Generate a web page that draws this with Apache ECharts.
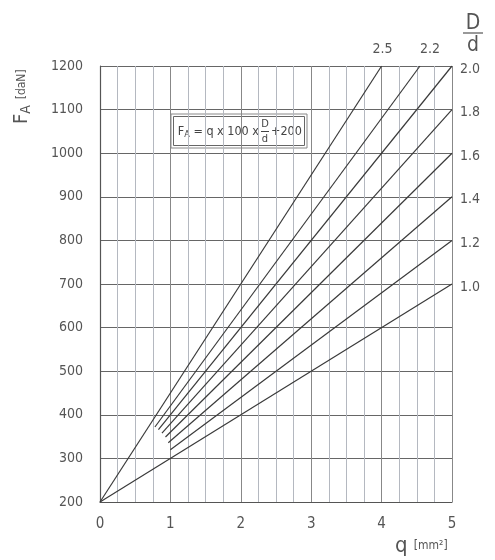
<!DOCTYPE html>
<html>
<head>
<meta charset="utf-8">
<script src="https://cdn.jsdelivr.net/npm/echarts@6/dist/echarts.min.js"></script>
<style>
  html, body { margin: 0; padding: 0; background: #fff; }
  #chart { width: 495px; height: 560px; }
</style>
</head>
<body>
<div id="chart"></div>
<script>
// D/d ratios, one line each
let ratios = ['2.5', '2.2', '2.0', '1.8', '1.6', '1.4', '1.2', '1.0'];
// where each line starts (q, F) and where it leaves the chart
let lineStart = [[0, 200], [0.78, 372], [0.83, 366], [0.88, 358], [0.93, 349], [0.97, 336], [1.0, 320], [0, 200]];
let lineEnd = [[4, 1200], [4.545, 1200], [5, 1200], [5, 1100], [5, 1000], [5, 900], [5, 800], [5, 700]];
// which ratios are labelled above the plot instead of at the right
let topLabels = ['2.5', '2.2'];

let font = "'Liberation Sans Narrow', 'DejaVu Sans Condensed', 'Liberation Sans', sans-serif";
let txt = '#555';

let chart = echarts.init(document.getElementById('chart'));

let series = ratios.map(function (r, i) {
  let onTop = topLabels.indexOf(r) >= 0;
  return {
    name: r,
    type: 'line',
    symbol: 'none',
    silent: true,
    lineStyle: { color: '#3a3a3a', width: 1.2 },
    endLabel: {
      show: true,
      formatter: r,
      distance: onTop ? 0 : 8,
      align: onTop ? 'center' : 'left',
      offset: onTop ? (r === '2.2' ? [10, -17] : [1, -17]) : [0, 3],
      color: txt,
      fontSize: 14,
      fontFamily: font
    },
    data: [lineStart[i], lineEnd[i]]
  };
});

chart.setOption({
  animation: false,
  grid: { left: 100, right: 43, top: 66, bottom: 58 },
  xAxis: {
    type: 'value',
    min: 0,
    max: 5,
    interval: 1,
    axisLine: { show: true, lineStyle: { color: '#555', width: 1.2 } },
    axisTick: { show: false },
    axisLabel: { margin: 15, color: txt, fontSize: 15, fontFamily: font },
    splitLine: { show: true, lineStyle: { color: '#888', width: 1 } },
    minorTick: { show: false, splitNumber: 4 },
    minorSplitLine: { show: true, lineStyle: { color: '#b4b8c0', width: 1 } }
  },
  yAxis: {
    type: 'value',
    min: 200,
    max: 1200,
    interval: 100,
    axisLine: { show: true, lineStyle: { color: '#555', width: 1.2 } },
    axisTick: { show: false },
    axisLabel: { margin: 17, color: txt, fontSize: 14, fontFamily: font, formatter: function (v) { return String(v); } },
    splitLine: { show: true, lineStyle: { color: '#666', width: 1 } }
  },
  series: series,
  graphic: [
    // y axis name, reads bottom to top
    {
      type: 'text',
      x: 22,
      y: 124,
      rotation: Math.PI / 2,
      style: {
        text: 'F{sub|A} {u|[daN]}',
        fill: txt,
        font: '20px ' + font,
        verticalAlign: 'middle',
        align: 'left',
        rich: {
          sub: { fontSize: 14, fontFamily: font, fill: txt, padding: [8, 0, 0, 0] },
          u: { fontSize: 12, fontFamily: font, fill: txt }
        }
      }
    },
    // x axis name
    {
      type: 'text',
      x: 395,
      y: 546,
      style: {
        text: 'q {u|[mm²]}',
        fill: txt,
        font: '22px ' + font,
        verticalAlign: 'middle',
        align: 'left',
        rich: { u: { fontSize: 12, fontFamily: font, fill: txt } }
      }
    },
    // D/d above the right labels
    { type: 'text', x: 473, y: 24, style: { text: 'D', fill: txt, font: '21px ' + font, align: 'center', verticalAlign: 'middle' } },
    { type: 'line', shape: { x1: 463, y1: 33, x2: 483, y2: 33 }, style: { stroke: txt, lineWidth: 1.2 } },
    { type: 'text', x: 473, y: 46, style: { text: 'd', fill: txt, font: '21px ' + font, align: 'center', verticalAlign: 'middle' } },
    // formula box
    {
      type: 'group',
      x: 171,
      y: 114,
      children: [
        { type: 'rect', shape: { x: 0, y: 0, width: 136, height: 34 }, style: { fill: '#fff', stroke: '#888', lineWidth: 1 } },
        { type: 'rect', shape: { x: 2.5, y: 2.5, width: 131, height: 29 }, style: { fill: 'none', stroke: '#666', lineWidth: 1 } },
        {
          type: 'text', x: 88, y: 18,
          style: {
            text: 'F{sub|A} = q x 100 x',
            fill: '#444',
            font: '12.5px ' + font,
            align: 'right',
            verticalAlign: 'middle',
            rich: { sub: { fontSize: 9, fontFamily: font, fill: '#444', padding: [6, 0, 0, 0] } }
          }
        },
        { type: 'text', x: 94, y: 10, style: { text: 'D', fill: '#444', font: '11px ' + font, align: 'center', verticalAlign: 'middle' } },
        { type: 'line', shape: { x1: 90, y1: 17.5, x2: 98, y2: 17.5 }, style: { stroke: '#444', lineWidth: 1 } },
        { type: 'text', x: 94, y: 25, style: { text: 'd', fill: '#444', font: '11px ' + font, align: 'center', verticalAlign: 'middle' } },
        { type: 'text', x: 100, y: 18, style: { text: '+200', fill: '#444', font: '12.5px ' + font, align: 'left', verticalAlign: 'middle' } }
      ]
    }
  ]
});
</script>
</body>
</html>
